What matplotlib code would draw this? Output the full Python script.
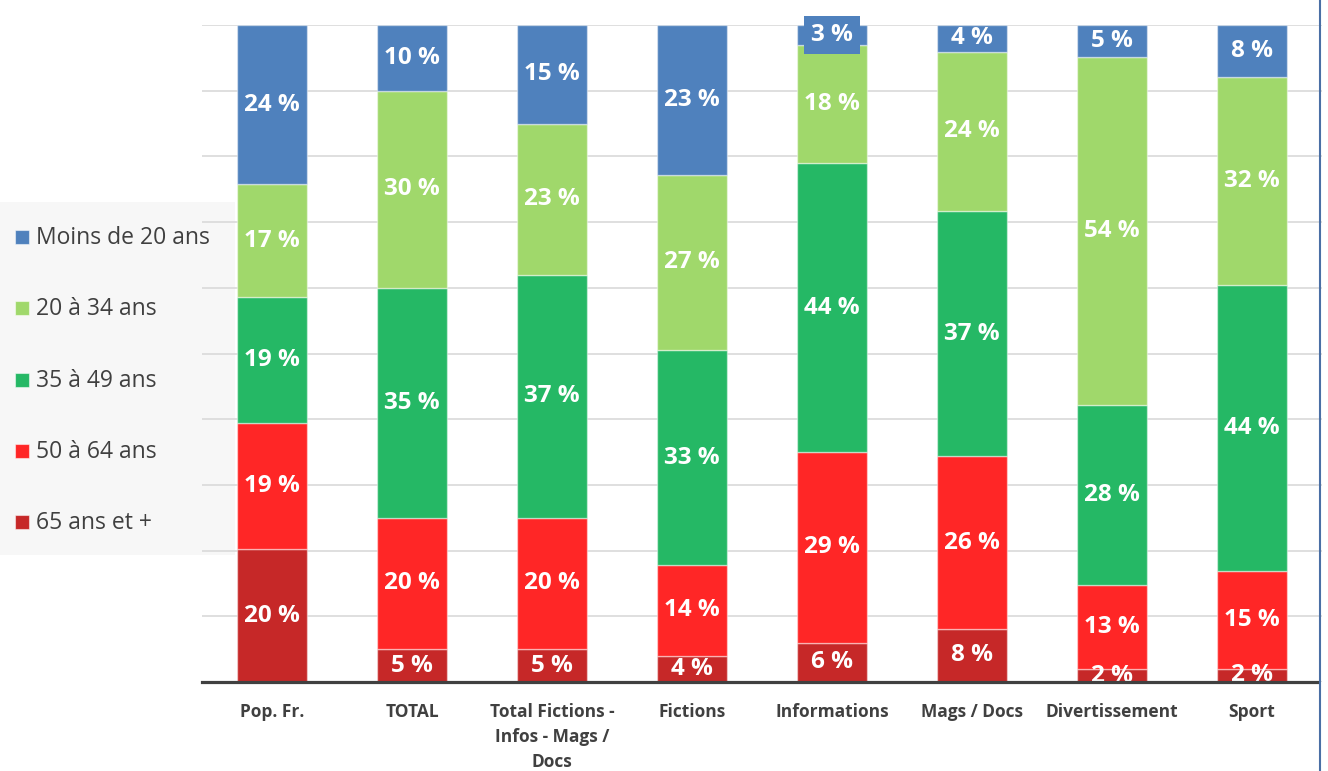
import numpy as np
import matplotlib
matplotlib.use("Agg")
import matplotlib.pyplot as plt
from matplotlib.patches import Rectangle
from matplotlib.lines import Line2D

# categories (x axis)
categories = ["Pop. Fr.", "TOTAL", "Total Fictions -\nInfos - Mags /\nDocs", "Fictions",
              "Informations", "Mags / Docs", "Divertissement", "Sport"]

# age groups, bottom to top in the stack
series_names = ["65 ans et +", "50 à 64 ans", "35 à 49 ans", "20 à 34 ans", "Moins de 20 ans"]
s_65_plus = [20, 5, 5, 4, 6, 8, 2, 2]
s_50_64 = [19, 20, 20, 14, 29, 26, 13, 15]
s_35_49 = [19, 35, 37, 33, 44, 37, 28, 44]
s_20_34 = [17, 30, 23, 27, 18, 24, 54, 32]
s_under_20 = [24, 10, 15, 23, 3, 4, 5, 8]

colors = ["#c62828", "#ff2626", "#25b865", "#a0d86b", "#4f81bd"]

W, H = 1328, 771
fig = plt.figure(figsize=(W / 100, H / 100), dpi=100)
plt.rcParams['font.family'] = ['Open Sans', 'DejaVu Sans']

def fx(px):
    return px / W

def fy(py):
    return 1 - py / H

# legend background panel (behind the axes)
fig.patches.append(Rectangle((0, fy(555)), fx(235), fy(202) - fy(555),
                             transform=fig.transFigure, facecolor="#f7f7f7",
                             edgecolor="none", zorder=0))

ax = fig.add_axes([fx(202), fy(682), fx(1322) - fx(202), fy(25) - fy(682)])
ax.patch.set_alpha(0)
ax.set_zorder(1)

data = np.array([s_65_plus, s_50_64, s_35_49, s_20_34, s_under_20], dtype=float)
shares = data / data.sum(axis=0) * 100
x = np.arange(len(categories))

bottom = np.zeros(len(categories))
for i, name in enumerate(series_names):
    ax.bar(x, shares[i], 0.5, bottom=bottom, color=colors[i],
           edgecolor=(1, 1, 1, 0.45), linewidth=1, zorder=2, label=name)
    for j in range(len(categories)):
        yc = bottom[j] + shares[i][j] / 2
        kw = {}
        if i == 4 and data[i][j] <= 3:
            kw["bbox"] = dict(boxstyle="square,pad=0.3", facecolor=colors[i],
                              edgecolor="none")
        ax.text(x[j], yc, f"{int(data[i][j])} %", ha="center", va="center",
                color="white", fontsize=17.5, fontweight="bold", zorder=4, **kw)
    bottom += shares[i]

ax.set_xlim(-0.5, len(categories) - 0.5)
ax.set_ylim(0, 100)
ax.set_yticks(np.arange(0, 101, 10))
ax.yaxis.grid(True, color="#d9d9d9", linewidth=1.2, zorder=0)
ax.set_axisbelow(True)
ax.tick_params(axis="y", left=False, labelleft=False)
ax.set_xticks(x)
ax.set_xticklabels(categories, fontsize=12.5, fontweight="bold", color="#404040",
                   linespacing=1.52, va="top")
ax.tick_params(axis="x", length=0, pad=15)
for side in ["top", "right", "left"]:
    ax.spines[side].set_visible(False)
ax.spines["bottom"].set_color("#404040")
ax.spines["bottom"].set_linewidth(2.3)
ax.spines["bottom"].set_bounds(-0.5, 7.47)
ax.spines["bottom"].set_zorder(5)

# manual legend (top entry first)
legend_y = [237, 308, 380, 451, 522]
for k, idx in enumerate([4, 3, 2, 1, 0]):
    yy = legend_y[k]
    fig.patches.append(Rectangle((fx(15), fy(yy + 7)), fx(14), fy(yy - 7) - fy(yy + 7),
                                 transform=fig.transFigure, facecolor=colors[idx],
                                 edgecolor=(1, 1, 1, 0.5), linewidth=0.8, zorder=2))
    fig.text(fx(36), fy(yy + 1), series_names[idx], ha="left", va="center",
             fontsize=16.5, color="#404040", zorder=3)

# right border line
fig.lines.append(Line2D([fx(1320), fx(1320)], [0, 1], transform=fig.transFigure,
                        color="#4a6fa5", linewidth=1.5))

fig.savefig("out.png", dpi=100)
